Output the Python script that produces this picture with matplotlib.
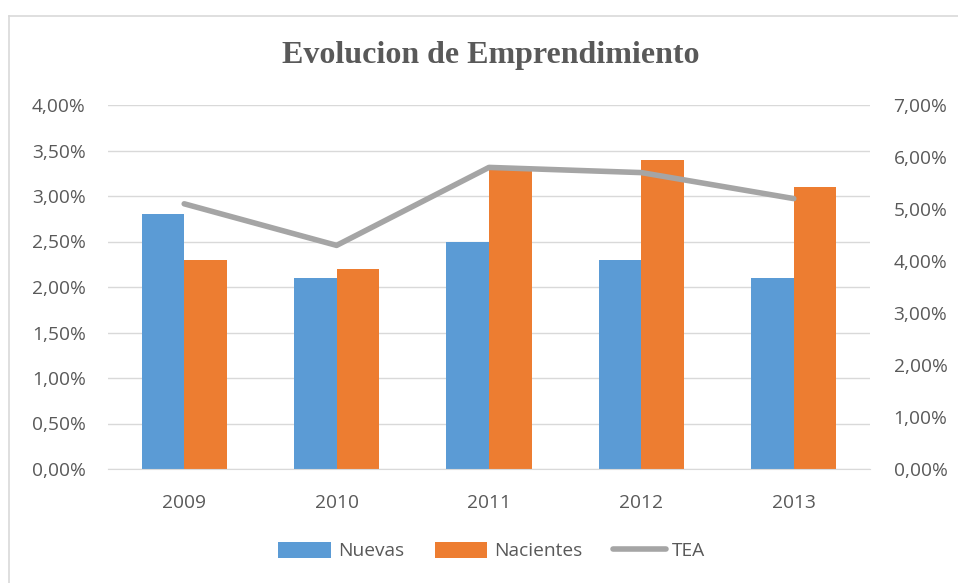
import matplotlib
matplotlib.use("Agg")
import matplotlib.pyplot as plt
import numpy as np
from matplotlib.lines import Line2D
from matplotlib.ticker import FuncFormatter, MultipleLocator

years = ["2009", "2010", "2011", "2012", "2013"]
nuevas = [2.8, 2.1, 2.5, 2.3, 2.1]
nacientes = [2.3, 2.2, 3.3, 3.4, 3.1]
tea = [5.1, 4.3, 5.8, 5.7, 5.2]

blue = "#5B9BD5"
orange = "#ED7D31"
gray = "#A5A5A5"
txt = "#595959"

plt.rcParams['font.family'] = ['Open Sans', 'DejaVu Sans']

fig = plt.figure(figsize=(9.58, 5.83), dpi=100)
fig.lines.append(Line2D([8.5/958, 8.5/958], [0, 1-15.5/583], transform=fig.transFigure,
                        color="#D9D9D9", linewidth=1.2))
fig.lines.append(Line2D([8.5/958, 1], [1-15.5/583, 1-15.5/583], transform=fig.transFigure,
                        color="#D9D9D9", linewidth=1.2))
ax = fig.add_axes([108/958, 1-469/583, 762/958, 364/583])
x = np.arange(len(years))
w = 0.28
ax.bar(x - w/2, nuevas, w, color=blue, label="Nuevas", zorder=2)
ax.bar(x + w/2, nacientes, w, color=orange, label="Nacientes", zorder=2)
ax.set_xlim(-0.5, len(years) - 0.5)
ax.set_ylim(0, 4)
ax.yaxis.set_major_locator(MultipleLocator(0.5))
fmt = FuncFormatter(lambda v, p: f"{v:.2f}%".replace(".", ","))
ax.yaxis.set_major_formatter(fmt)
ax.set_xticks(x)
ax.set_xticklabels(years)
ax.grid(axis="y", color="#D9D9D9", linewidth=1, zorder=0)
for s in ["top", "right", "left"]:
    ax.spines[s].set_visible(False)
ax.spines["bottom"].set_color("#D9D9D9")
ax.tick_params(axis="both", length=0, colors=txt, labelsize=13.8, pad=16)
ax.tick_params(axis="x", pad=18)

ax2 = ax.twinx()
ax2.plot(x, tea, color=gray, linewidth=4, label="TEA", solid_capstyle="round", zorder=3)
ax2.set_ylim(0, 7)
ax2.yaxis.set_major_locator(MultipleLocator(1))
ax2.yaxis.set_major_formatter(fmt)
for s in ["top", "right", "left", "bottom"]:
    ax2.spines[s].set_visible(False)
ax2.tick_params(axis="y", length=0, colors=txt, labelsize=13.8, pad=17)

fig.text(491/958, 1-55/583, "Evolucion de Emprendimiento", ha="center", va="center",
         fontsize=23, fontweight="bold", color=txt, family=["Liberation Serif"])

h1, l1 = ax.get_legend_handles_labels()
h2, l2 = ax2.get_legend_handles_labels()
fig.legend(h1 + h2, l1 + l2, loc="center", bbox_to_anchor=(492/958, 1-551/583), ncol=3,
           frameon=False, fontsize=13.8, labelcolor=txt, handlelength=2.75, handleheight=0.9,
           columnspacing=1.6, handletextpad=0.35)

fig.savefig("out.png", dpi=100)
